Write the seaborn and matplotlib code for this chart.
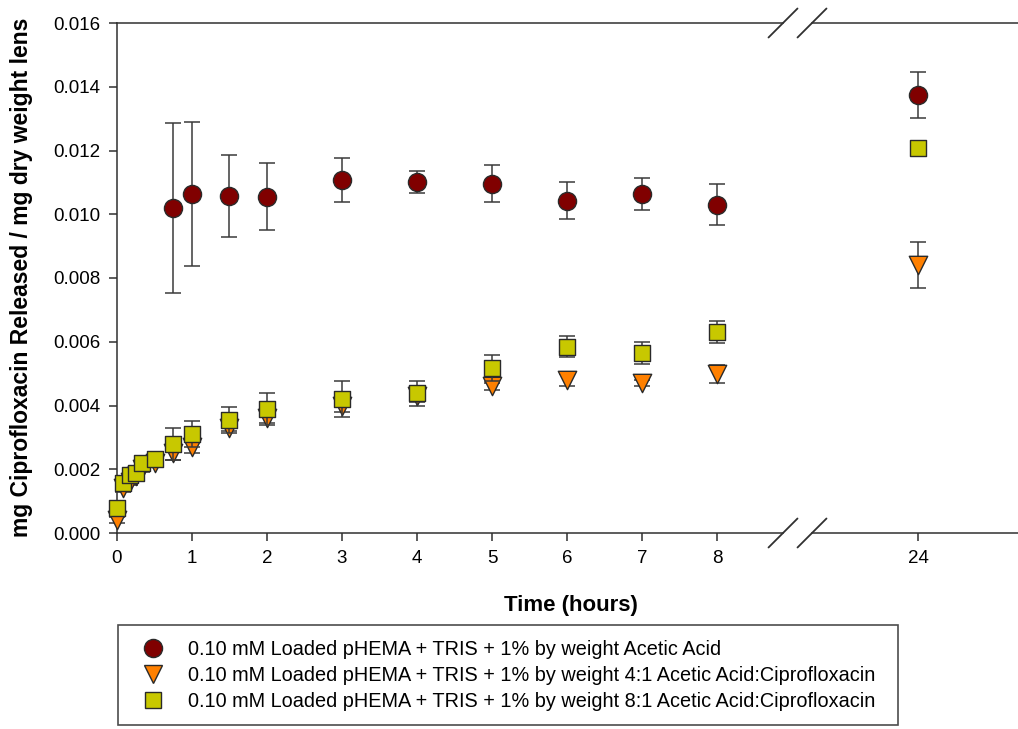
import numpy as np
import pandas as pd
import matplotlib
matplotlib.use("Agg")
import matplotlib.pyplot as plt
import seaborn as sns
from matplotlib.lines import Line2D
from matplotlib.ticker import FormatStrFormatter

# ---------------- data ----------------
series_names = [
    "0.10 mM Loaded pHEMA + TRIS + 1% by weight Acetic Acid",
    "0.10 mM Loaded pHEMA + TRIS + 1% by weight 4:1 Acetic Acid:Ciprofloxacin",
    "0.10 mM Loaded pHEMA + TRIS + 1% by weight 8:1 Acetic Acid:Ciprofloxacin",
]

acetic_time = [0.75, 1, 1.5, 2, 3, 4, 5, 6, 7, 8, 24]
acetic_mean = [0.01019, 0.01063, 0.01057, 0.01055, 0.01107, 0.01102, 0.01095,
               0.01043, 0.01064, 0.01030, 0.01374]
acetic_err = [0.00266, 0.00226, 0.00129, 0.00105, 0.00070, 0.00034, 0.00058,
              0.00058, 0.00051, 0.00064, 0.00072]

ratio_time = [0, 0.083, 0.167, 0.25, 0.333, 0.5, 0.75, 1, 1.5, 2, 3, 4, 5, 6, 7, 8, 24]
ratio4_mean = [0.0004, 0.0014, 0.0016, 0.0018, 0.0020, 0.0022, 0.0025, 0.0027, 0.0033,
               0.0036, 0.0040, 0.0043, 0.0046, 0.0048, 0.0047, 0.0050, 0.0084]
ratio4_err = [0.0001, 0.0001, 0.0001, 0.0001, 0.0001, 0.0001, 0.0002, 0.0002, 0.0001,
              0.00015, 0.0002, 0.0002, 0.0001, 0.0002, 0.0001, 0.00028, 0.00072]
ratio8_mean = [0.00077, 0.00158, 0.00182, 0.00189, 0.00219, 0.00231, 0.00279, 0.00311,
               0.00355, 0.00388, 0.0042, 0.00438, 0.00517, 0.00585, 0.00564, 0.0063, 0.01209]
ratio8_err = [0.0001, 0.0001, 0.0001, 0.0001, 0.0001, 0.0001, 0.0005, 0.0004, 0.0004,
              0.0005, 0.00057, 0.00038, 0.0004, 0.00033, 0.00035, 0.00035, 0.0001]

left_ticks = [0, 1, 2, 3, 4, 5, 6, 7, 8]
right_ticks = [24]
y_ticks = [0.000, 0.002, 0.004, 0.006, 0.008, 0.010, 0.012, 0.014, 0.016]

x_label = "Time (hours)"
y_label = "mg Ciprofloxacin Released / mg dry weight lens"

# ---------------- style ----------------
sns.set_style("ticks")
plt.rcParams["font.family"] = ["Liberation Sans", "DejaVu Sans"]
plt.rcParams["text.color"] = "black"
plt.rcParams["legend.labelcolor"] = "black"

colors = ["#800000", "#ff8000", "#c8c800"]
markers = ["o", "v", "s"]
sizes = [170, 175, 140]
edge = "#2a2a2a"
axis_col = "#303030"

frames = [
    pd.DataFrame({"t": acetic_time, "y": acetic_mean, "e": acetic_err}),
    pd.DataFrame({"t": ratio_time, "y": ratio4_mean, "e": ratio4_err}),
    pd.DataFrame({"t": ratio_time, "y": ratio8_mean, "e": ratio8_err}),
]

W, H = 1018, 729
fig = plt.figure(figsize=(W / 100, H / 100), dpi=100)

ax_left_px, ax_top_px, ax_bot_px = 117, 23, 533
brk1, brk2 = 783, 812
axL = fig.add_axes([ax_left_px / W, 1 - ax_bot_px / H, (brk1 - ax_left_px) / W,
                    (ax_bot_px - ax_top_px) / H])
axR = fig.add_axes([brk2 / W, 1 - ax_bot_px / H, (W - brk2) / W,
                    (ax_bot_px - ax_top_px) / H])

px_per_hour = 75.0
axL.set_xlim(0, (brk1 - ax_left_px) / px_per_hour)
axR.set_xlim(24 - (918 - brk2) / px_per_hour, 24 + (W - 918) / px_per_hour)

for ax, sel in [(axL, lambda d: d[d.t <= 9]), (axR, lambda d: d[d.t >= 20])]:
    for i, d in enumerate(frames):
        dd = sel(d)
        ax.errorbar(dd.t, dd.y, yerr=dd.e, fmt="none", ecolor="#3a3a3a",
                    elinewidth=1.1, capsize=5.5, capthick=1.1, zorder=3 + 2 * i,
                    clip_on=False)
        sns.scatterplot(data=dd, x="t", y="y", ax=ax, marker=markers[i], s=sizes[i],
                        color=colors[i], edgecolor=edge, linewidth=1.0,
                        zorder=4 + 2 * i, legend=False, clip_on=False)
    ax.set_ylim(0, 0.016)
    ax.set_xlabel("")
    ax.set_ylabel("")
    for s in ["top", "bottom", "left"]:
        ax.spines[s].set_color(axis_col)
        ax.spines[s].set_linewidth(1.1)
    ax.spines["right"].set_visible(False)
    ax.tick_params(direction="out", length=6, width=1.1, color=axis_col,
                   labelsize=13.5, labelcolor="black", pad=6)

axL.set_xticks(left_ticks)
axL.set_yticks(y_ticks)
axL.yaxis.set_major_formatter(FormatStrFormatter("%.3f"))
axR.set_xticks(right_ticks)
axR.set_yticks([])
axR.spines["left"].set_visible(False)
axR.tick_params(axis="y", left=False, labelleft=False)

# break marks
def fig_line(x0, y0, x1, y1):
    fig.add_artist(Line2D([x0 / W, x1 / W], [1 - y0 / H, 1 - y1 / H],
                          transform=fig.transFigure, color=axis_col, lw=1.3))

d = 14.5
for yc in (ax_top_px, ax_bot_px):
    for xc in (brk1, brk2):
        fig_line(xc - d, yc + d, xc + d, yc - d)

# labels
fig.text(571 / W, 1 - 605 / H, x_label, ha="center", va="center",
         fontsize=16, fontweight="bold", color="black")
fig.text(22 / W, 1 - 277 / H, y_label, ha="center", va="center",
         rotation=90, fontsize=16.5, fontweight="bold", color="black")

# legend
handles = [Line2D([], [], linestyle="none", marker=markers[i],
                  markersize=np.sqrt(sizes[i]), markerfacecolor=colors[i],
                  markeredgecolor=edge, markeredgewidth=1.0) for i in range(3)]
leg = fig.legend(handles, series_names, loc="lower left",
                 bbox_to_anchor=(118 / W, 4 / H, (898 - 118) / W, 0.1),
                 mode="expand", borderaxespad=0, fontsize=14.3, frameon=True,
                 fancybox=False, edgecolor="#202020", borderpad=0.73,
                 handlelength=2.04, handletextpad=0.73, labelspacing=0.35)
leg.get_frame().set_linewidth(1.2)
for t in leg.get_texts():
    t.set_color("black")

fig.savefig("out.png", dpi=100)
